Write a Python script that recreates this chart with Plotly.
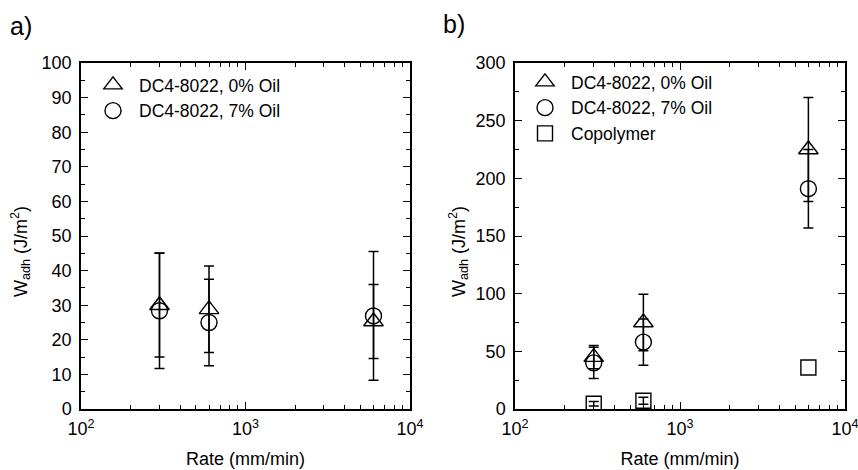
import plotly.graph_objects as go

# ---- data ----
rates = [300, 600, 6000]

# panel a
a_oil0 = [30.0, 28.8, 25.3]
a_oil0_err = [15.0, 12.5, 10.7]
a_oil7 = [28.4, 25.0, 26.9]
a_oil7_err = [16.7, 12.5, 18.6]

# panel b
b_oil0 = [45.0, 75.0, 225.0]
b_oil0_err = [10.0, 24.5, 45.0]
b_oil7 = [40.0, 58.0, 191.0]
b_oil7_err = [13.5, 20.0, 34.0]
b_copo = [4.6, 7.2, 36.0]
b_copo_err = [2.0, 3.0, 0.0]   # 0 = no visible error bar

names = ["DC4-8022, 0% Oil", "DC4-8022, 7% Oil", "Copolymer"]
x_tickvals = [100, 1000, 10000]
x_ticktext = ["10<sup>2</sup>", "10<sup>3</sup>", "10<sup>4</sup>"]
y_title = "W<sub>adh</sub> (J/m<sup>2</sup>)"
x_title = "Rate (mm/min)"

FONT = "Liberation Sans, Arial, sans-serif"
FS = 18
LFS = 17.5
fig = go.Figure()

def add(x, y, err, name, symbol, size, xa, ya, legend, show=True, marker_opacity=1):
    fig.add_trace(go.Scatter(
        x=x, y=y, mode="markers", name=name, xaxis=xa, yaxis=ya,
        legend=legend, showlegend=show,
        marker=dict(symbol=symbol, size=size, color="black", opacity=marker_opacity,
                    line=dict(color="black", width=1.4)),
        error_y=dict(type="data", array=err, visible=err is not None, color="black",
                     thickness=1.5, width=5),
    ))

add(rates, a_oil0, a_oil0_err, names[0], "triangle-up-open", 17, "x", "y", "legend")
add(rates, a_oil7, a_oil7_err, names[1], "circle-open", 16, "x", "y", "legend")
add(rates, b_oil0, b_oil0_err, names[0], "triangle-up-open", 17, "x2", "y2", "legend2")
add(rates, b_oil7, b_oil7_err, names[1], "circle-open", 16, "x2", "y2", "legend2")
# copolymer: markers for all points, error bars only where the error is non-zero
add(rates, b_copo, None, names[2], "square-open", 15, "x2", "y2", "legend2")
keep = [i for i, e in enumerate(b_copo_err) if e > 0]
add([rates[i] for i in keep], [b_copo[i] for i in keep], [b_copo_err[i] for i in keep],
    names[2], "square-open", 15, "x2", "y2", "legend2", show=False, marker_opacity=0)

W, H = 858, 470
def px(v):
    return v / W
def py(v):
    return 1 - v / H

tf = dict(size=FS, family=FONT, color="black")
lf = dict(size=LFS, family=FONT, color="black")
xcommon = dict(type="log", range=[2, 4], tickmode="array", tickvals=x_tickvals,
               ticktext=x_ticktext, ticks="inside", ticklen=7, tickwidth=1.3,
               tickcolor="black", showline=True, linecolor="black", linewidth=1.5,
               mirror="ticks", showgrid=False, zeroline=False, automargin=False,
               ticklabeloverflow="allow", ticklabelstandoff=3,
               minor=dict(ticks="inside", ticklen=4, tickwidth=1.2, tickcolor="black",
                          dtick="D1", showgrid=False),
               tickfont=tf,
               title=dict(text=x_title, font=tf, standoff=14))
ycommon = dict(ticks="inside", ticklen=7, tickwidth=1.3, tickcolor="black",
               showline=True, linecolor="black", linewidth=1.5, mirror="ticks",
               showgrid=False, zeroline=False, automargin=False, tickfont=tf,
               ticklabelstandoff=4)

fig.update_layout(
    width=W, height=H, margin=dict(l=0, r=0, t=0, b=0, autoexpand=False),
    paper_bgcolor="white", plot_bgcolor="white",
    font=dict(family=FONT, color="black", size=FS),
    xaxis=dict(xcommon, domain=[px(81), px(410)], anchor="y"),
    yaxis=dict(ycommon, domain=[py(409), py(63)], anchor="x", range=[0, 100], dtick=10,
               minor=dict(ticks="inside", ticklen=4, tickwidth=1.2, tickcolor="black", dtick=5)),
    xaxis2=dict(xcommon, domain=[px(515), px(845)], anchor="y2"),
    yaxis2=dict(ycommon, domain=[py(409), py(63)], anchor="x2", range=[0, 300], dtick=50,
                minor=dict(ticks="inside", ticklen=4, tickwidth=1.2, tickcolor="black", dtick=25)),
    legend=dict(x=px(87), y=py(67), xanchor="left", yanchor="top", itemwidth=42,
                bgcolor="rgba(0,0,0,0)", font=lf, tracegroupgap=0, itemsizing="trace"),
    legend2=dict(x=px(519), y=py(64), xanchor="left", yanchor="top", itemwidth=42,
                 bgcolor="rgba(0,0,0,0)", font=lf, tracegroupgap=0, itemsizing="trace"),
    annotations=[
        dict(text="a)", x=px(8), y=py(26), xref="paper", yref="paper", showarrow=False,
             xanchor="left", yanchor="middle", font=dict(size=25, family=FONT, color="black")),
        dict(text="b)", x=px(441), y=py(24), xref="paper", yref="paper", showarrow=False,
             xanchor="left", yanchor="middle", font=dict(size=25, family=FONT, color="black")),
        dict(text=y_title, x=px(20), y=py(252), xref="paper", yref="paper", showarrow=False,
             textangle=-90, xanchor="center", yanchor="middle", font=tf),
        dict(text=y_title, x=px(458), y=py(252), xref="paper", yref="paper", showarrow=False,
             textangle=-90, xanchor="center", yanchor="middle", font=tf),
    ],
)

fig.write_html("out.html")
